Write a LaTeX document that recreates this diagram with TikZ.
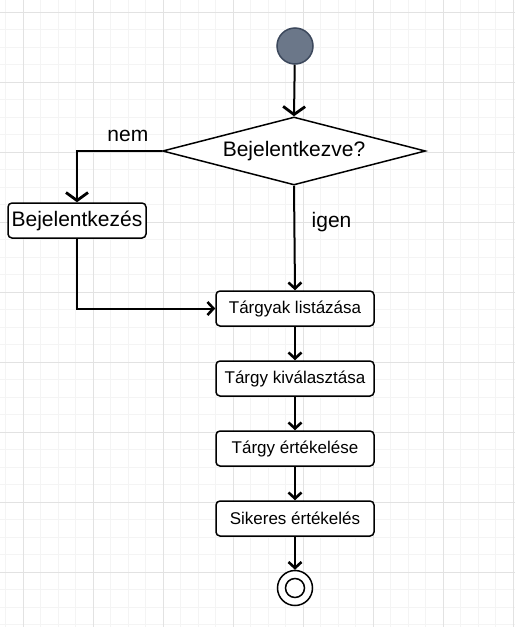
\documentclass[tikz,border=0pt]{standalone}
\usepackage{fontspec}
\setmainfont{Liberation Sans}
\usetikzlibrary{shapes.geometric}
\usetikzlibrary{arrows.meta}

\definecolor{startfill}{RGB}{107,119,137}
\definecolor{startline}{RGB}{60,72,92}
\definecolor{minorgrid}{RGB}{244,244,244}
\definecolor{majorgrid}{RGB}{226,226,226}

\begin{document}
\begin{tikzpicture}[x=1pt, y=-1pt,
    actbox/.style={draw, line width=1.5pt, rounded corners=4pt, fill=white,
        minimum width=158pt, minimum height=35pt, inner sep=0pt,
        font=\fontsize{17}{20}\selectfont},
    flow/.style={line width=2pt, -{Straight Barb[length=6pt, width=13pt, line width=2.6pt]}},
    bigflow/.style={line width=2pt, -{Straight Barb[length=8pt, width=22pt, line width=2.8pt]}},
    bigtxt/.style={font=\fontsize{21}{25}\selectfont}]
    \useasboundingbox (0,0) rectangle (515,627);
    \fill[white] (0,0) rectangle (515,627);
    % background grid
    \foreach \x in {5.5,23,...,515}
	\draw[minorgrid, line width=1pt] (\x,0) -- (\x,627);
    \foreach \y in {12,29.5,...,627}
	\draw[minorgrid, line width=1pt] (0,\y) -- (515,\y);
    \foreach \x in {23,93,...,515}
	\draw[majorgrid, line width=1pt] (\x,0) -- (\x,627);
    \foreach \y in {12,82,...,627}
	\draw[majorgrid, line width=1pt] (0,\y) -- (515,\y);

    % nodes
    \node[circle, draw=startline, fill=startfill, line width=1.5pt, minimum size=36pt] (start) at (295,46) {};
    \node[diamond, draw, fill=white, line width=1.5pt, aspect=3.87, inner sep=0pt,
        minimum width=263pt, minimum height=68pt, bigtxt] (logged) at (294,151) {Bejelentkezve?};
    \node[actbox, minimum width=138pt, bigtxt] (login) at (77,220.5) {Bejelentkezés};
    \node[actbox] (list) at (295,308.5) {Tárgyak listázása};
    \node[actbox] (select) at (295,378.5) {Tárgy kiválasztása};
    \node[actbox] (rate) at (295,448.5) {Tárgy értékelése};
    \node[actbox] (success) at (295,518.5) {Sikeres értékelés};
    \node[circle, draw, fill=white, line width=1.5pt, minimum size=35pt] (stop) at (295,588) {};
    \node[circle, draw, line width=1.5pt, minimum size=19pt] (stopin) at (stop) {};

    % connectors
    \draw[bigflow] (start) -- (logged.north);
    \draw[bigflow] (logged.west) -| node[pos=0.2, above=5pt, bigtxt] {nem} (login.north);
    \draw[flow] (logged.south) -- node[pos=0.35, right=13pt, bigtxt] {igen} (list.north);
    \draw[flow] (login.south) |- (list.west);
    \draw[flow] (list) -- (select);
    \draw[flow] (select) -- (rate);
    \draw[flow] (rate) -- (success);
    \draw[flow] (success) -- (stop);
\end{tikzpicture}
\end{document}
